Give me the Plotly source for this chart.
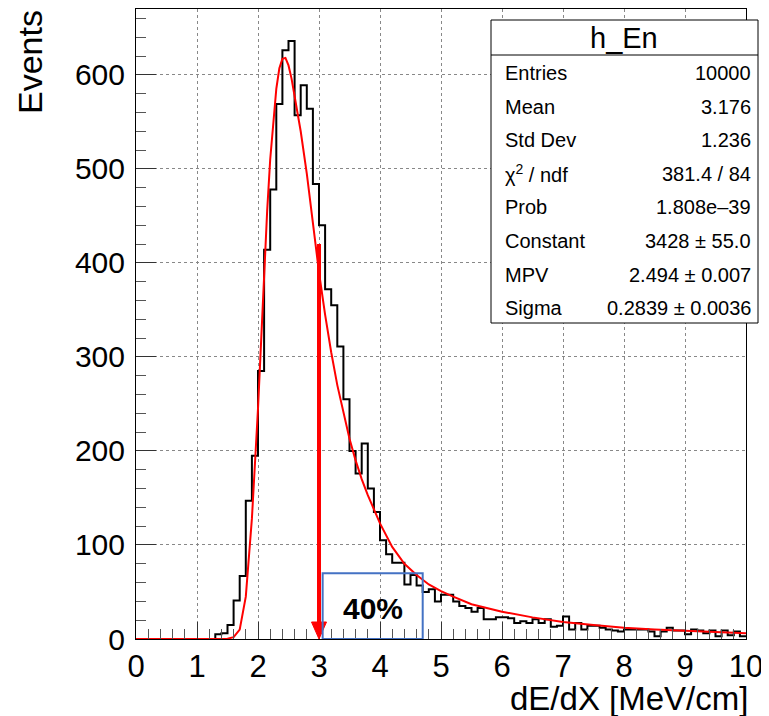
import plotly.graph_objects as go

# ---------------- data ----------------
bin_width = 0.1
bin_left_edges = [round(i * bin_width, 1) for i in range(100)]
counts = [0] * 13 + [
    5, 6, 15, 41, 67, 147, 195,                      # 1.3 - 1.9
    285, 414, 478, 569, 626, 636, 557, 589, 564, 484,  # 2.0 - 2.9
    440, 372, 355, 311, 255, 200, 176, 208, 160, 135,  # 3.0 - 3.9
    105, 90, 81, 81, 58, 68, 57, 50, 53, 40,           # 4.0 - 4.9
    47, 47, 40, 35, 33, 29, 33, 21, 21, 23,            # 5.0 - 5.9
    23, 22, 17, 19, 17, 21, 17, 21, 13, 14,            # 6.0 - 6.9
    24, 10, 17, 10, 14, 14, 12, 10, 9, 8,              # 7.0 - 7.9
    10, 10, 10, 10, 8, 3, 8, 12, 9, 9,                 # 8.0 - 8.9
    5, 10, 9, 6, 9, 3, 9, 4, 8, 3,                     # 9.0 - 9.9
]

fit_x = [0.0, 1.4, 1.5, 1.6, 1.7, 1.8, 1.9, 2.0, 2.05, 2.1, 2.15, 2.2, 2.25, 2.3,
         2.35, 2.4, 2.45, 2.5, 2.55, 2.6, 2.7, 2.8, 2.9, 3.0, 3.1, 3.2, 3.3, 3.4,
         3.5, 3.6, 3.7, 3.8, 3.9, 4.0, 4.2, 4.4, 4.6, 4.8, 5.0, 5.2, 5.5, 6.0,
         6.5, 7.0, 7.5, 8.0, 8.5, 9.0, 9.5, 10.0]
fit_y = [0, 0, 0.3, 2, 10, 45, 128, 245, 318, 392, 455, 510, 552, 585,
         607, 617, 618, 610, 596, 578, 540, 495, 442, 390, 345, 305, 270, 240,
         213, 190, 170, 153, 138, 123, 98, 80, 68, 58, 51, 45, 37, 29,
         23, 18, 15, 12, 10, 8.8, 7.3, 6]

x_ticks = list(range(0, 11))
y_ticks = list(range(0, 700, 100))

stats_title = "h_En"
stats_labels = ["Entries", "Mean", "Std Dev", "χ<sup>2</sup> / ndf", "Prob",
                "Constant", "MPV", "Sigma"]
stats_values = ["10000", "3.176", "1.236", "381.4 / 84", "1.808e–39",
                "3428 ± 55.0", "2.494 ± 0.007", "0.2839 ± 0.0036"]

arrow_x = 3.0
arrow_top = 420
box_x0, box_x1, box_top = 3.06, 4.70, 70
box_label = "40%"

# ---------------- figure ----------------
OFF = 8                      # page body margin
W, H = 769 - OFF, 716 - OFF
FL, FR, FT, FB = 136, 746, 9, 639   # frame in window pixels
ML, MT = FL - OFF, FT - OFF
MR, MB = W - (FR - OFF), H - (FB - OFF)
PW, PH = W - ML - MR, H - MT - MB
XMAX, YMAX = 10, 670

FONT = "Liberation Sans, Arial, Helvetica, sans-serif"

def px_x(p):
    return (p - FL) / PW

def px_y(p):
    return (FB - p) / PH

step_x = bin_left_edges + [bin_left_edges[-1] + bin_width]
step_y = counts + [counts[-1]]

fig = go.Figure()
fig.add_trace(go.Scatter(x=step_x, y=step_y, mode="lines", line_shape="hv",
                         line=dict(color="black", width=2), hoverinfo="skip"))
fig.add_trace(go.Scatter(x=fit_x, y=fit_y, mode="lines",
                         line=dict(color="#ff0000", width=2), hoverinfo="skip"))

# arrow
head_h = 17 * YMAX / PH
head_w = 7.5 * XMAX / PW
fig.add_shape(type="line", x0=arrow_x, x1=arrow_x, y0=arrow_top, y1=head_h,
              line=dict(color="#ff0000", width=4), layer="above")
fig.add_shape(type="path",
              path=f"M {arrow_x - head_w},{head_h} L {arrow_x + head_w},{head_h} L {arrow_x},0 Z",
              fillcolor="#ff0000", line=dict(color="#ff0000", width=1), layer="above")

# blue box
fig.add_shape(type="rect", x0=box_x0, x1=box_x1, y0=0, y1=box_top,
              line=dict(color="#4472C4", width=2), layer="above")
fig.add_annotation(x=(box_x0 + box_x1) / 2, y=box_top * 0.47, text=f"<b>{box_label}</b>",
                   showarrow=False, font=dict(family=FONT, size=30, color="black"))

# stats box
fig.add_shape(type="rect", xref="paper", yref="paper",
              x0=px_x(491), x1=px_x(758), y0=px_y(323), y1=px_y(20),
              fillcolor="white", line=dict(color="black", width=1), layer="above")
fig.add_shape(type="line", xref="paper", yref="paper",
              x0=px_x(491), x1=px_x(758), y0=px_y(55), y1=px_y(55),
              line=dict(color="black", width=1), layer="above")
fig.add_annotation(xref="paper", yref="paper", x=px_x(624), y=px_y(38),
                   text=stats_title, showarrow=False, xanchor="center", yanchor="middle",
                   font=dict(family=FONT, size=29, color="black"))
row_y0, row_dy = 73, 33.6
for i, (lab, val) in enumerate(zip(stats_labels, stats_values)):
    yy = px_y(row_y0 + i * row_dy)
    fig.add_annotation(xref="paper", yref="paper", x=px_x(503), y=yy, text=lab,
                       showarrow=False, xanchor="left", yanchor="middle",
                       font=dict(family=FONT, size=20, color="black"))
    fig.add_annotation(xref="paper", yref="paper", x=px_x(753), y=yy, text=val,
                       showarrow=False, xanchor="right", yanchor="middle",
                       font=dict(family=FONT, size=20, color="black"))

# axis titles
fig.add_annotation(xref="paper", yref="paper", x=px_x(749), y=px_y(718),
                   text="dE/dX [MeV/cm]", showarrow=False, xanchor="right", yanchor="bottom",
                   borderpad=0,
                   font=dict(family=FONT, size=33, color="black"))
fig.add_annotation(xref="paper", yref="paper", x=px_x(30), y=px_y(8),
                   text="Events", showarrow=False, textangle=-90,
                   xanchor="center", yanchor="top",
                   font=dict(family=FONT, size=34, color="black"))

axis_common = dict(showline=True, linecolor="black", linewidth=1, mirror=True,
                   ticks="inside", tickcolor="#333", zeroline=False, automargin=False,
                   showgrid=True, gridcolor="#888", griddash="dot", gridwidth=1)

fig.update_layout(
    width=W, height=H, margin=dict(l=ML, r=MR, t=MT, b=MB, pad=0, autoexpand=False),
    paper_bgcolor="white", plot_bgcolor="white", showlegend=False,
    xaxis=dict(range=[0, XMAX], tickvals=x_ticks, ticklen=17, ticklabelstandoff=0,
               tickfont=dict(family=FONT, size=31, color="black"),
               minor=dict(dtick=0.2, ticklen=10, ticks="inside", tickcolor="#555", showgrid=False),
               **axis_common),
    yaxis=dict(range=[0, YMAX], tickvals=y_ticks, ticklen=20, ticklabelstandoff=4,
               tickfont=dict(family=FONT, size=30, color="black"),
               minor=dict(dtick=20, ticklen=10, ticks="inside", tickcolor="#555", showgrid=False),
               **axis_common),
)

fig.write_html("out.html")
